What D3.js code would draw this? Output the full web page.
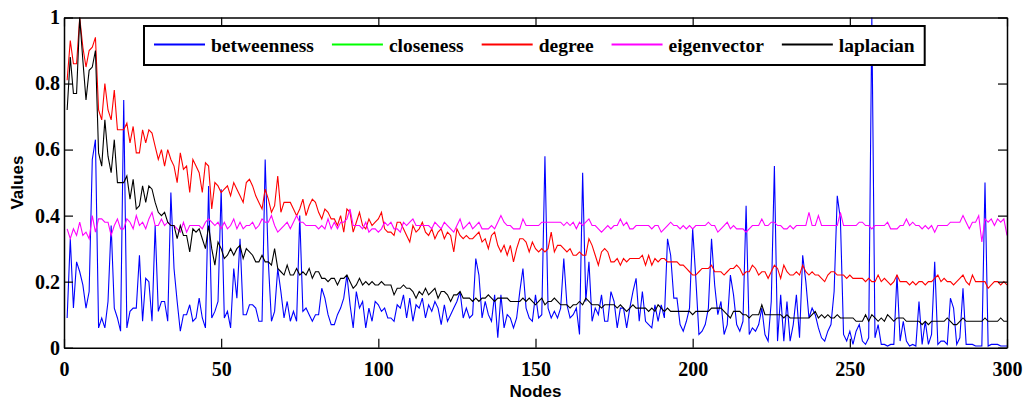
<!DOCTYPE html>
<html><head><meta charset="utf-8">
<script src="https://cdn.jsdelivr.net/npm/d3@7"></script>
<style>body{margin:0;background:#fff}svg{display:block}</style>
</head><body>
<svg id="c" width="1023" height="401"></svg>
<script>
// ---------- data ----------
const xTicks = [0, 50, 100, 150, 200, 250, 300];
const yTicks = [0, 0.2, 0.4, 0.6, 0.8, 1];
const seriesNames = ["betweenness", "closeness", "degree", "eigenvector", "laplacian"];
const seriesColors = ["#0000ff", "#00ff00", "#ff0000", "#ff00ff", "#000000"];

const betweenness = [
0.09,0.33,0.12,0.26,0.23,0.19,0.12,0.17,0.57,0.63,0.06,0.09,0.06,0.14,0.37,0.12,0.09,0.05,0.75,0.06,
0.11,0.12,0.12,0.28,0.08,0.21,0.20,0.08,0.37,0.11,0.14,0.14,0.08,0.47,0.24,0.14,0.05,0.10,0.10,0.13,0.08,
0.09,0.15,0.09,0.06,0.49,0.09,0.11,0.14,0.48,0.09,0.11,0.06,0.24,0.15,0.33,0.10,0.10,0.13,0.13,0.12,0.08,
0.08,0.57,0.26,0.08,0.11,0.24,0.17,0.09,0.14,0.08,0.11,0.08,0.40,0.11,0.12,0.10,0.08,0.10,0.10,0.18,0.15,0.10,0.07,
0.07,0.10,0.12,0.15,0.22,0.13,0.06,0.17,0.12,0.14,0.06,0.12,0.08,0.14,0.13,0.11,0.12,0.09,0.09,0.08,0.13,
0.12,0.16,0.09,0.15,0.08,0.13,0.12,0.15,0.09,0.13,0.11,0.14,0.12,0.07,0.13,0.08,0.10,0.12,0.14,0.17,0.09,0.12,
0.09,0.10,0.27,0.22,0.09,0.14,0.10,0.08,0.16,0.03,0.16,0.06,0.10,0.09,0.06,0.09,0.17,0.24,0.12,0.09,0.08,
0.16,0.09,0.10,0.58,0.12,0.09,0.11,0.09,0.12,0.27,0.13,0.09,0.10,0.12,0.04,0.53,0.14,0.26,0.08,0.12,0.10,0.16,
0.08,0.08,0.17,0.14,0.06,0.12,0.12,0.06,0.12,0.17,0.21,0.08,0.17,0.08,0.07,0.06,0.13,0.08,0.13,0.09,0.33,
0.28,0.15,0.15,0.07,0.05,0.08,0.12,0.36,0.21,0.04,0.05,0.07,0.12,0.33,0.19,0.10,0.14,0.04,0.07,0.22,0.16,0.07,
0.05,0.08,0.43,0.04,0.06,0.05,0.07,0.12,0.04,0.02,0.14,0.55,0.02,0.16,0.02,0.14,0.02,0.07,0.16,0.03,0.28,
0.20,0.09,0.12,0.10,0.06,0.03,0.02,0.05,0.07,0.17,0.46,0.39,0.04,0.02,0.05,0.01,0.05,0.07,0.02,0.01,0.03,1.00,
0.03,0.07,0.01,0.01,0.005,0.01,0.01,0.22,0.02,0.08,0.02,0.005,0.01,0.005,0.14,0.01,0.08,0.01,0.04,0.26,0.01,
0.02,0.02,0.01,0.15,0.12,0.01,0.03,0.18,0.01,0.01,0.01,0.005,0.005,0.005,0.50,0.005,0.01,0.01,0.01,0.005,0.005,0.005
];

// closeness is listed in the legend but its curve is not visible in the picture
const closeness = [];

const degree = [
0.81,0.93,0.86,0.86,1.00,0.91,0.85,0.90,0.91,0.94,0.72,0.69,0.80,0.72,0.69,0.78,0.66,0.66,0.66,0.68,
0.62,0.67,0.59,0.59,0.66,0.62,0.66,0.65,0.61,0.57,0.60,0.55,0.60,0.57,0.55,0.50,0.59,0.54,0.55,0.47,0.57,
0.55,0.53,0.47,0.56,0.55,0.42,0.50,0.49,0.47,0.48,0.49,0.46,0.50,0.48,0.46,0.44,0.50,0.51,0.49,0.46,0.44,
0.42,0.48,0.45,0.41,0.43,0.52,0.41,0.44,0.44,0.44,0.42,0.40,0.42,0.45,0.40,0.43,0.45,0.44,0.41,0.39,0.42,0.41,0.39,
0.39,0.37,0.40,0.35,0.42,0.41,0.35,0.38,0.41,0.37,0.36,0.39,0.37,0.38,0.39,0.41,0.36,0.35,0.35,0.34,0.38,
0.38,0.36,0.34,0.32,0.37,0.35,0.36,0.38,0.35,0.34,0.36,0.33,0.35,0.36,0.33,0.35,0.34,0.29,0.36,0.34,0.33,0.34,
0.33,0.33,0.34,0.35,0.32,0.33,0.30,0.34,0.35,0.31,0.29,0.31,0.28,0.31,0.26,0.30,0.33,0.33,0.32,0.29,0.32,
0.30,0.29,0.30,0.29,0.30,0.35,0.29,0.31,0.31,0.30,0.29,0.30,0.28,0.28,0.29,0.28,0.28,0.33,0.31,0.28,0.25,0.29,
0.30,0.29,0.26,0.26,0.27,0.25,0.27,0.26,0.27,0.27,0.27,0.27,0.28,0.25,0.28,0.25,0.27,0.26,0.27,0.27,0.26,
0.26,0.26,0.26,0.25,0.25,0.24,0.23,0.22,0.22,0.23,0.24,0.24,0.24,0.25,0.23,0.23,0.23,0.22,0.23,0.24,0.24,0.25,
0.24,0.22,0.23,0.23,0.25,0.24,0.22,0.23,0.23,0.21,0.23,0.25,0.24,0.21,0.25,0.23,0.22,0.22,0.23,0.22,0.25,
0.23,0.22,0.23,0.22,0.22,0.21,0.20,0.22,0.23,0.23,0.22,0.22,0.22,0.21,0.22,0.21,0.21,0.21,0.21,0.20,0.21,0.20,
0.20,0.22,0.20,0.21,0.20,0.19,0.20,0.22,0.20,0.20,0.20,0.19,0.20,0.19,0.20,0.20,0.19,0.20,0.20,0.21,0.22,
0.20,0.21,0.20,0.20,0.19,0.20,0.21,0.22,0.20,0.19,0.22,0.20,0.20,0.20,0.20,0.18,0.19,0.20,0.20,0.19,0.20,0.19
];

const eigenvector = [
0.36,0.33,0.36,0.34,0.38,0.34,0.35,0.33,0.40,0.35,0.39,0.39,0.38,0.38,0.34,0.37,0.39,0.36,0.36,0.39,
0.38,0.36,0.40,0.37,0.38,0.36,0.39,0.41,0.37,0.37,0.39,0.37,0.38,0.37,0.37,0.36,0.35,0.38,0.35,0.37,0.37,
0.37,0.37,0.36,0.38,0.39,0.38,0.37,0.38,0.36,0.38,0.36,0.37,0.39,0.36,0.38,0.36,0.37,0.37,0.38,0.36,0.37,
0.39,0.38,0.38,0.40,0.37,0.35,0.36,0.37,0.38,0.36,0.38,0.40,0.38,0.38,0.37,0.37,0.37,0.37,0.36,0.37,0.36,0.39,0.36,
0.38,0.36,0.38,0.38,0.39,0.42,0.37,0.37,0.37,0.36,0.38,0.35,0.36,0.36,0.35,0.36,0.38,0.37,0.38,0.36,0.36,
0.35,0.38,0.37,0.38,0.39,0.37,0.37,0.37,0.37,0.37,0.36,0.38,0.37,0.36,0.38,0.37,0.36,0.35,0.37,0.39,0.36,0.37,
0.38,0.36,0.37,0.38,0.36,0.36,0.36,0.37,0.36,0.38,0.40,0.38,0.37,0.37,0.36,0.36,0.36,0.39,0.37,0.37,0.37,
0.37,0.37,0.38,0.38,0.38,0.38,0.38,0.38,0.38,0.37,0.38,0.37,0.38,0.36,0.38,0.37,0.38,0.39,0.37,0.37,0.36,0.35,
0.36,0.37,0.36,0.37,0.37,0.39,0.37,0.38,0.36,0.36,0.37,0.37,0.37,0.37,0.37,0.36,0.37,0.37,0.35,0.36,0.37,
0.38,0.37,0.37,0.36,0.37,0.36,0.37,0.36,0.37,0.37,0.37,0.37,0.38,0.37,0.37,0.35,0.36,0.37,0.38,0.36,0.37,0.36,
0.36,0.36,0.35,0.36,0.37,0.37,0.37,0.39,0.37,0.37,0.38,0.38,0.37,0.37,0.36,0.36,0.37,0.36,0.37,0.37,0.37,
0.37,0.41,0.37,0.37,0.40,0.37,0.37,0.37,0.37,0.37,0.37,0.41,0.37,0.37,0.37,0.37,0.37,0.38,0.38,0.37,0.37,0.36,
0.37,0.37,0.37,0.37,0.38,0.36,0.36,0.36,0.37,0.37,0.39,0.37,0.38,0.37,0.37,0.36,0.37,0.36,0.37,0.35,0.37,
0.37,0.37,0.37,0.38,0.38,0.38,0.38,0.40,0.38,0.36,0.38,0.38,0.40,0.32,0.39,0.38,0.39,0.37,0.39,0.38,0.39,0.34
];

const laplacian = [
0.72,0.88,0.77,0.77,1.00,0.87,0.75,0.84,0.85,0.90,0.59,0.55,0.69,0.58,0.53,0.63,0.50,0.50,0.50,0.52,
0.45,0.51,0.42,0.43,0.49,0.44,0.49,0.48,0.44,0.41,0.40,0.41,0.38,0.37,0.37,0.33,0.37,0.34,0.34,0.29,0.36,
0.35,0.36,0.33,0.30,0.37,0.30,0.25,0.32,0.30,0.27,0.28,0.30,0.28,0.30,0.31,0.27,0.30,0.29,0.28,0.26,0.26,
0.28,0.26,0.26,0.25,0.30,0.24,0.23,0.22,0.25,0.22,0.22,0.24,0.22,0.23,0.22,0.24,0.21,0.23,0.23,0.21,0.21,0.20,0.21,
0.21,0.19,0.21,0.21,0.22,0.20,0.18,0.19,0.21,0.19,0.20,0.19,0.20,0.19,0.19,0.20,0.19,0.19,0.19,0.16,0.18,
0.18,0.19,0.18,0.18,0.17,0.15,0.17,0.16,0.18,0.16,0.17,0.18,0.15,0.17,0.17,0.16,0.14,0.16,0.16,0.17,0.15,0.15,
0.15,0.14,0.15,0.14,0.15,0.15,0.16,0.15,0.14,0.15,0.15,0.15,0.15,0.14,0.14,0.14,0.14,0.15,0.14,0.15,0.14,
0.13,0.14,0.15,0.13,0.14,0.14,0.15,0.14,0.13,0.13,0.13,0.12,0.13,0.13,0.14,0.13,0.15,0.14,0.13,0.13,0.13,0.12,
0.13,0.13,0.13,0.13,0.12,0.13,0.12,0.11,0.12,0.13,0.12,0.12,0.12,0.12,0.11,0.12,0.11,0.13,0.12,0.11,0.12,
0.11,0.11,0.11,0.11,0.11,0.11,0.11,0.10,0.11,0.11,0.11,0.11,0.11,0.12,0.12,0.12,0.12,0.11,0.10,0.09,0.11,0.11,
0.11,0.10,0.10,0.09,0.10,0.10,0.10,0.13,0.10,0.10,0.10,0.10,0.10,0.10,0.09,0.10,0.09,0.09,0.09,0.09,0.09,
0.09,0.09,0.10,0.11,0.09,0.10,0.09,0.10,0.09,0.09,0.10,0.09,0.09,0.09,0.09,0.09,0.08,0.08,0.08,0.10,0.08,0.10,
0.09,0.08,0.09,0.08,0.10,0.09,0.08,0.09,0.09,0.09,0.08,0.08,0.08,0.08,0.08,0.07,0.08,0.07,0.08,0.08,0.08,
0.08,0.08,0.09,0.08,0.07,0.07,0.08,0.09,0.08,0.08,0.08,0.08,0.08,0.08,0.09,0.08,0.08,0.08,0.08,0.09,0.08,0.08
];

const seriesValues = [betweenness, closeness, degree, eigenvector, laplacian];

// ---------- layout ----------
const svg = d3.select("#c");
const W = 1023, H = 401;
const plot = {left: 64, right: 1007, top: 17.5, bottom: 347.7};

const x = d3.scaleLinear().domain([0, 300]).range([plot.left, plot.right]);
const y = d3.scaleLinear().domain([0, 1]).range([plot.bottom, plot.top]);

svg.append("rect").attr("width", W).attr("height", H).attr("fill", "#fff");

svg.append("defs").append("clipPath").attr("id", "clip")
  .append("rect").attr("x", plot.left).attr("y", plot.top - 1)
  .attr("width", plot.right - plot.left).attr("height", plot.bottom - plot.top + 1);

// series lines
const line = d3.line().x((d, i) => x(i + 1)).y(d => y(d));
const gLines = svg.append("g").attr("clip-path", "url(#clip)");
seriesValues.forEach((vals, k) => {
  if (!vals.length) return;
  gLines.append("path").datum(vals)
    .attr("d", line)
    .attr("fill", "none")
    .attr("stroke", seriesColors[k])
    .attr("stroke-width", 1.1)
    .attr("stroke-linejoin", "miter");
});

// axes (box with inward ticks)
const tickFont = "'Liberation Serif','Times New Roman',serif";
const styleAxis = g => {
  g.selectAll("path.domain").attr("stroke", "#000").attr("stroke-width", 1.5);
  g.selectAll(".tick line").attr("stroke", "#000").attr("stroke-width", 1.2);
  g.selectAll("text").attr("font-family", tickFont).attr("font-weight", "bold")
    .attr("font-size", 20).attr("fill", "#000");
};
svg.append("g").attr("transform", `translate(0,${plot.bottom})`)
  .call(d3.axisBottom(x).tickValues(xTicks).tickSizeInner(-9).tickSizeOuter(0).tickPadding(14).tickFormat(d3.format("d")))
  .call(styleAxis);
svg.append("g").attr("transform", `translate(0,${plot.top})`)
  .call(d3.axisTop(x).tickValues(xTicks).tickSizeInner(-9).tickSizeOuter(0).tickFormat(""))
  .call(styleAxis);
svg.append("g").attr("transform", `translate(${plot.left},0)`)
  .call(d3.axisLeft(y).tickValues(yTicks).tickSizeInner(-9).tickSizeOuter(0).tickPadding(4).tickFormat(d => String(d)))
  .call(styleAxis);
svg.append("g").attr("transform", `translate(${plot.right},0)`)
  .call(d3.axisRight(y).tickValues(yTicks).tickSizeInner(-9).tickSizeOuter(0).tickFormat(""))
  .call(styleAxis);

// axis titles
const titleFont = "'Liberation Sans',Arial,sans-serif";
svg.append("text").text("Nodes")
  .attr("x", (plot.left + plot.right) / 2).attr("y", 397)
  .attr("text-anchor", "middle").attr("font-family", titleFont)
  .attr("font-weight", "bold").attr("font-size", 17);
svg.append("text").text("Values")
  .attr("transform", `translate(23,${(plot.top + plot.bottom) / 2}) rotate(-90)`)
  .attr("text-anchor", "middle").attr("font-family", titleFont)
  .attr("font-weight", "bold").attr("font-size", 17);

// legend
const leg = svg.append("g");
const legBox = leg.append("rect")
  .attr("x", 144).attr("y", 26).attr("height", 39)
  .attr("fill", "#fff").attr("stroke", "#000").attr("stroke-width", 2);
let cursor = 154;
const gap = 18;
seriesNames.forEach((name, k) => {
  leg.append("line")
    .attr("x1", cursor).attr("x2", cursor + 51)
    .attr("y1", 44.5).attr("y2", 44.5)
    .attr("stroke", seriesColors[k]).attr("stroke-width", 2);
  const t = leg.append("text").text(name)
    .attr("x", cursor + 57).attr("y", 52)
    .attr("font-family", tickFont).attr("font-weight", "bold")
    .attr("font-size", 19.5).attr("fill", "#000");
  const w = t.node().getComputedTextLength();
  cursor = cursor + 57 + w + gap;
});
legBox.attr("width", cursor - gap + 10 - 144);
</script>
</body></html>
